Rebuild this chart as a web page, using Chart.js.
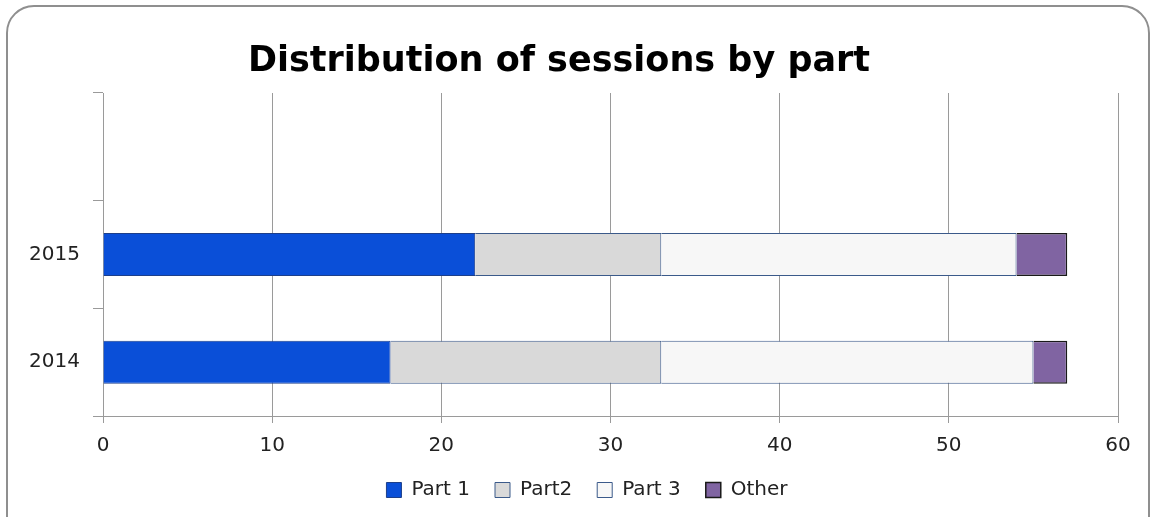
<!DOCTYPE html>
<html lang="en">
  <head>
    <meta charset="UTF-8">
    <script src="https://cdn.jsdelivr.net/npm/chart.js"></script>
    <title>Distribution of sessions by part</title>
    <style>
      html, body{margin: 0; padding: 0; background: #fff; overflow: hidden;}
      #wrap{position: relative; width: 1156px; height: 517px;}
      #frame{position: absolute; left: 6px; top: 5px; width: 1140px; height: 560px; border: 2px solid #8f8f8f; border-radius: 28px; pointer-events: none;}
    </style>
  </head>
  <body>
    <div id="wrap">
      <canvas id="myChart" width="1156" height="517"></canvas>
      <div id="frame"></div>
    </div>
    <script>
      // data
      const years = ['', '2015', '2014'];
      const part1 = [null, 22, 17];
      const part2 = [null, 11, 16];
      const part3 = [null, 21, 22];
      const other = [null, 3, 2];
      const xTicks = [0, 10, 20, 30, 40, 50, 60];

      const tickFont = {family: 'DejaVu Sans', size: 20};

      // legend sits a bit right of centre in the original
      const legendShift = {
        id: 'legendShift',
        afterLayout: function(chart){
          chart.legend.left += 28;
          chart.legend.right += 28;
        }
      };

      new Chart(document.getElementById('myChart'), {
        type: 'bar',
        data: {
          labels: years,
          datasets: [
            {label: 'Part 1', data: part1, backgroundColor: '#0a4fd8', borderColor: '#1d3f8a', borderWidth: 1},
            {label: 'Part2', data: part2, backgroundColor: '#d9d9d9', borderColor: '#3b5a8a', borderWidth: 1},
            {label: 'Part 3', data: part3, backgroundColor: '#f7f7f7', borderColor: '#3b5a8a', borderWidth: 1},
            {label: 'Other', data: other, backgroundColor: '#8064a2', borderColor: '#1a1a1a', borderWidth: 1.5}
          ]
        },
        plugins: [legendShift],
        options: {
          indexAxis: 'y',
          responsive: false,
          animation: false,
          barPercentage: 0.4,
          categoryPercentage: 1,
          layout: {padding: {left: 0, right: 38, top: 0, bottom: 7}},
          plugins: {
            title: {
              display: true,
              text: 'Distribution of sessions by part',
              color: '#000',
              font: {family: 'DejaVu Sans', size: 35, weight: 'bold'},
              padding: {top: 41, bottom: 10}
            },
            legend: {
              position: 'bottom',
              labels: {
                color: '#222',
                font: {family: 'DejaVu Sans', size: 20},
                boxWidth: 15,
                boxHeight: 15,
                padding: 25
              }
            },
            tooltip: {enabled: false}
          },
          scales: {
            x: {
              stacked: true,
              min: 0,
              max: 60,
              afterBuildTicks: function(scale){
                scale.ticks = xTicks.map(v => ({value: v}));
              },
              afterFit: function(scale){ scale.height = 39; },
              ticks: {color: '#222', font: tickFont, padding: 11},
              grid: {color: '#9a9a9a', lineWidth: 1, tickLength: 7},
              border: {color: '#9a9a9a'}
            },
            y: {
              stacked: true,
              afterFit: function(scale){ scale.width = 103; },
              ticks: {color: '#222', font: tickFont, padding: 13},
              grid: {color: '#9a9a9a', drawOnChartArea: false, tickLength: 10},
              border: {color: '#9a9a9a'}
            }
          }
        }
      });
    </script>
  </body>
</html>
